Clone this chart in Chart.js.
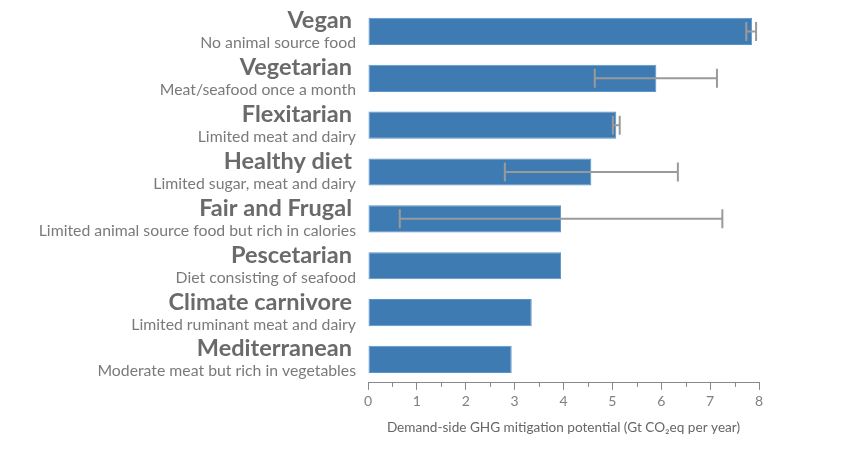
<!DOCTYPE html>
<html>
<head>
<meta charset="utf-8">
<script src="https://cdn.jsdelivr.net/npm/chart.js@4.4.1/dist/chart.umd.min.js"></script>
<style>
  html, body { margin: 0; padding: 0; background: #fff; }
  #wrap { width: 853px; height: 460px; position: relative; }
</style>
</head>
<body>
<div id="wrap"><canvas id="diets"></canvas></div>
<script>
  // Diet categories, with their one-line descriptions
  const diets = ['Vegan', 'Vegetarian', 'Flexitarian', 'Healthy diet', 'Fair and Frugal',
    'Pescetarian', 'Climate carnivore', 'Mediterranean'];
  const descriptions = ['No animal source food', 'Meat/seafood once a month', 'Limited meat and dairy',
    'Limited sugar, meat and dairy', 'Limited animal source food but rich in calories',
    'Diet consisting of seafood', 'Limited ruminant meat and dairy', 'Moderate meat but rich in vegetables'];

  // Mitigation potential (Gt CO2eq per year) and error range
  const potential = [7.86, 5.90, 5.08, 4.57, 3.95, 3.95, 3.35, 2.94];
  const errLow = [7.74, 4.64, 5.01, 2.80, 0.65, null, null, null];
  const errHigh = [7.94, 7.14, 5.15, 6.34, 7.25, null, null, null];

  const xTicks = [0, 1, 2, 3, 4, 5, 6, 7, 8];
  const xMinorTicks = [0.5, 1.5, 2.5, 3.5, 4.5, 5.5, 6.5, 7.5];

  // two-line category labels: bold name + smaller description
  const dietLabels = {
    id: 'dietLabels',
    afterDraw(chart) {
      let ctx = chart.ctx,
        y = chart.scales.y;
      ctx.save();
      ctx.textAlign = 'right';
      ctx.textBaseline = 'alphabetic';
      diets.forEach((name, i) => {
        let cy = y.getPixelForValue(i);
        ctx.fillStyle = '#6a6a6a';
        ctx.font = 'bold 23.5px Lato';
        ctx.fillText(name, 352, cy - 3);
        ctx.fillStyle = '#7a7a7a';
        ctx.font = '15.8px Lato';
        ctx.fillText(descriptions[i], 356, cy + 17);
      });
      ctx.restore();
    }
  };

  // grey whiskers on top of the bars
  const errorBars = {
    id: 'errorBars',
    afterDatasetsDraw(chart) {
      let ctx = chart.ctx,
        x = chart.scales.x,
        y = chart.scales.y;
      ctx.save();
      ctx.strokeStyle = '#9a9a9a';
      ctx.lineWidth = 2;
      errLow.forEach((lo, i) => {
        if (lo == null) return;
        let cy = y.getPixelForValue(i),
          x0 = x.getPixelForValue(lo),
          x1 = x.getPixelForValue(errHigh[i]);
        ctx.beginPath();
        ctx.moveTo(x0, cy); ctx.lineTo(x1, cy);
        ctx.moveTo(x0, cy - 9.5); ctx.lineTo(x0, cy + 9.5);
        ctx.moveTo(x1, cy - 9.5); ctx.lineTo(x1, cy + 9.5);
        ctx.stroke();
      });
      ctx.restore();
    }
  };

  // short half-step ticks under the x axis line
  const minorTicks = {
    id: 'minorTicks',
    afterDraw(chart) {
      let ctx = chart.ctx,
        x = chart.scales.x,
        base = chart.chartArea.bottom;
      ctx.save();
      ctx.strokeStyle = '#888';
      ctx.lineWidth = 1;
      xMinorTicks.forEach((v) => {
        let px = Math.round(x.getPixelForValue(v)) + 0.5;
        ctx.beginPath();
        ctx.moveTo(px, base); ctx.lineTo(px, base + 4);
        ctx.stroke();
      });
      ctx.restore();
    }
  };

  new Chart(document.getElementById('diets').getContext('2d'), {
    type: 'bar',
    data: {
      labels: diets,
      datasets: [{
        data: potential,
        backgroundColor: '#3f7bb3',
        borderColor: '#5b95c8',
        borderWidth: 1,
        borderSkipped: false,
        barPercentage: 0.58,
        categoryPercentage: 1
      }]
    },
    options: {
      indexAxis: 'y',
      responsive: true,
      maintainAspectRatio: false,
      animation: false,
      layout: { padding: { left: 368, right: 94, top: 8, bottom: 24 } },
      plugins: {
        legend: { display: false },
        tooltip: { enabled: false }
      },
      scales: {
        y: { display: false },
        x: {
          min: 0,
          max: 8,
          afterBuildTicks: (scale) => { scale.ticks = xTicks.map((v) => ({ value: v })); },
          border: { display: true, color: '#888', width: 1 },
          grid: { drawOnChartArea: false, drawTicks: true, tickLength: 7, color: '#888' },
          ticks: { padding: 3, color: '#808080', font: { family: 'Lato', size: 14 }, maxRotation: 0 },
          title: {
            display: true,
            text: 'Demand-side GHG mitigation potential (Gt CO\u2082eq per year)',
            color: '#666',
            font: { family: 'Lato', size: 13.6 },
            padding: { top: 7, bottom: 0 }
          }
        }
      }
    },
    plugins: [dietLabels, errorBars, minorTicks]
  });
</script>
</body>
</html>
